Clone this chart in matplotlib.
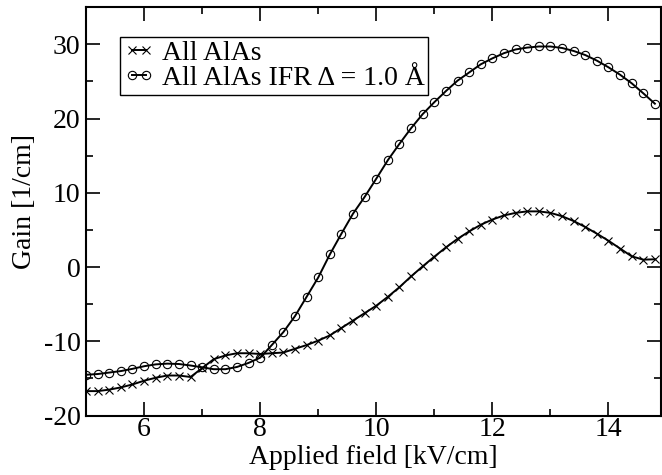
import numpy as np
import matplotlib
matplotlib.use('Agg')
import matplotlib.pyplot as plt
from matplotlib.ticker import MultipleLocator

plt.rcParams['font.family'] = ['Liberation Serif', 'DejaVu Serif']
plt.rcParams['axes.unicode_minus'] = False

# applied field, kV/cm (step 0.2)
field = [5.0 + 0.2 * i for i in range(50)]

# All AlAs
gain_alas = [-16.7, -16.7, -16.5, -16.2, -15.8, -15.3, -14.9, -14.6, -14.6, -14.8,
             -13.6, -12.4, -11.9, -11.6, -11.6, -11.7, -11.6, -11.5, -11.0, -10.5,
             -9.9, -9.2, -8.2, -7.2, -6.2, -5.2, -4.0, -2.7, -1.25, 0.1,
             1.4, 2.65, 3.8, 4.8, 5.7, 6.4, 6.95, 7.3, 7.5, 7.5,
             7.3, 6.85, 6.2, 5.4, 4.5, 3.55, 2.5, 1.45, 1.0, 1.05]

# All AlAs with interface roughness, delta = 1.0 A
gain_ifr = [-14.5, -14.4, -14.2, -14.0, -13.7, -13.35, -13.1, -13.0, -13.05, -13.25,
            -13.5, -13.75, -13.75, -13.45, -12.9, -12.2, -10.5, -8.75, -6.6, -4.0,
            -1.4, 1.7, 4.5, 7.2, 9.45, 11.9, 14.4, 16.6, 18.7, 20.6,
            22.2, 23.7, 25.1, 26.2, 27.3, 28.1, 28.8, 29.3, 29.55, 29.7,
            29.7, 29.5, 29.1, 28.55, 27.8, 26.9, 25.9, 24.75, 23.4, 22.0]

fig = plt.figure(figsize=(6.62, 4.75), dpi=100)
ax = fig.add_axes([0.130, 0.125, 0.868, 0.860])

ax.plot(field, gain_alas, color='black', lw=1.4, marker='x', ms=5.5, mew=0.8,
        label='All AlAs')
ax.plot(field, gain_ifr, color='black', lw=1.4, marker='o', ms=6, mew=0.8,
        mfc='none', label='All AlAs IFR \u0394 = 1.0 \u00c5')

ax.set_xlim(5, 14.9)
ax.set_ylim(-20, 35)
ax.xaxis.set_major_locator(MultipleLocator(2))
ax.xaxis.set_minor_locator(MultipleLocator(1))
ax.yaxis.set_major_locator(MultipleLocator(10))
ax.yaxis.set_minor_locator(MultipleLocator(5))
ax.tick_params(which='both', direction='in', top=True, right=True,
               labelsize=20, width=1.2)
ax.tick_params(which='major', length=10)
ax.tick_params(which='minor', length=5)
ax.tick_params(axis='x', which='major', pad=1)
ax.tick_params(axis='y', which='major', pad=4)
for s in ax.spines.values():
    s.set_linewidth(1.5)

ax.set_xlabel('Applied field [kV/cm]', fontsize=20, labelpad=2)
ax.set_ylabel('Gain [1/cm]', fontsize=20)
ax.yaxis.set_label_coords(-0.085, 0.523)

leg = ax.legend(loc='upper left', bbox_to_anchor=(0.059, 0.927), fontsize=20,
                numpoints=2, handlelength=1.1, handletextpad=0.3,
                borderpad=0.12, borderaxespad=0, labelspacing=0.0,
                fancybox=False, framealpha=1)
leg.get_frame().set_edgecolor('black')
leg.get_frame().set_linewidth(1.0)

fig.savefig('out.png', dpi=100)
